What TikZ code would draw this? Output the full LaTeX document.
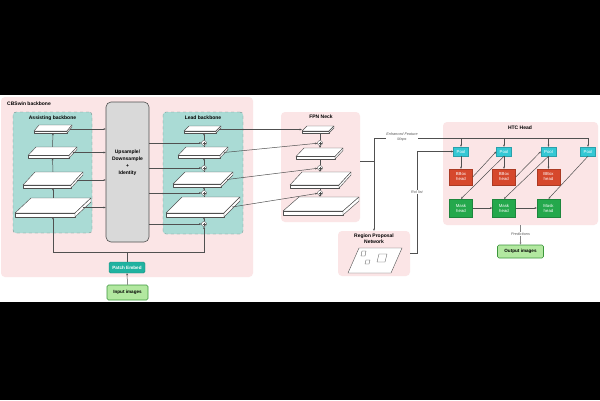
\documentclass[tikz,border=0pt]{standalone}
\usepackage{fontspec}
\setmainfont{Liberation Sans}
\usetikzlibrary{arrows.meta,calc,fit}
\definecolor{pinkbg}{RGB}{251,229,230}
\definecolor{tealbg}{RGB}{170,219,213}
\definecolor{tealbd}{RGB}{110,140,136}
\definecolor{graybox}{RGB}{217,217,217}
\definecolor{linec}{RGB}{80,80,80}
\definecolor{patchc}{RGB}{32,178,160}
\definecolor{inputg}{RGB}{178,232,160}
\definecolor{inputb}{RGB}{60,150,60}
\definecolor{poolc}{RGB}{52,200,212}
\definecolor{bboxc}{RGB}{214,72,44}
\definecolor{maskc}{RGB}{36,168,76}
\definecolor{labc}{RGB}{90,90,90}
\tikzset{
  arr/.style={draw=linec, line width=0.5pt, -{Stealth[length=2.2pt,width=1.9pt]}},
  ln/.style={draw=linec, line width=0.5pt},
  slabst/.style={draw=linec, fill=white, line width=0.45pt, line join=round},
  pinkbox/.style={fill=pinkbg, rounded corners=4pt},
  tealbox/.style={fill=tealbg, draw=tealbd, dashed, line width=0.35pt, rounded corners=3pt},
  ttl/.style={font=\fontsize{5}{6}\selectfont\bfseries, inner sep=0},
  sumc/.style={circle, draw=linec, fill=white, line width=0.4pt, minimum size=5pt, inner sep=0,
    path picture={\draw[line width=0.35pt,linec] ([xshift=-1.5pt]path picture bounding box.center) -- ([xshift=1.5pt]path picture bounding box.center) ([yshift=-1.5pt]path picture bounding box.center) -- ([yshift=1.5pt]path picture bounding box.center);}},
  colbox/.style={inner sep=0, align=center, text=white, font=\fontsize{4.3}{5}\selectfont, line width=0.4pt},
  pool/.style={colbox, fill=poolc, draw=poolc!80!black, minimum width=15pt, minimum height=9pt},
  bbox/.style={colbox, fill=bboxc, draw=bboxc!80!black, minimum width=23pt, minimum height=16pt},
  mask/.style={colbox, fill=maskc, draw=maskc!80!black, minimum width=23pt, minimum height=18pt},
  greenbtn/.style={fill=inputg, draw=inputb, line width=0.6pt, rounded corners=1.5pt, inner sep=0, font=\fontsize{4.6}{5}\selectfont\bfseries},
  itl/.style={font=\fontsize{3.8}{4.3}\selectfont\itshape, text=labc, inner sep=0.6pt, align=center}
}
\newcommand\slab[7]{%
  \node[inner sep=0, fit={(#2,#3)(#4,#5)}] (#1) {};
  \filldraw[slabst] (#2,{#5-#7}) -- ({#4-#6},{#5-#7}) -- (#4,#3) -- ({#2+#6},#3) -- cycle;
  \filldraw[slabst] (#2,{#5-#7}) -- ({#4-#6},{#5-#7}) -- ({#4-#6},#5) -- (#2,#5) -- cycle;
  \filldraw[slabst] ({#4-#6},{#5-#7}) -- (#4,#3) -- (#4,{#3+#7}) -- ({#4-#6},#5) -- cycle;
  \coordinate (#1-r) at ({#4-#6/2},{(#3+#5)/2});
}
\begin{document}
\begin{tikzpicture}[x=1pt,y=-1pt]
\useasboundingbox (0,0) rectangle (600,400);
\fill[black] (0,0) rectangle (600,95);
\fill[white] (0,95) rectangle (600,302);
\fill[black] (0,302) rectangle (600,400);

% background panels
\node[pinkbox, inner sep=0, fit={(1,97)(253,277)}] (cbs) {};
\node[ttl, anchor=west] (cbst) at (7,104) {CBSwin backbone};
\node[tealbox, inner sep=0, fit={(13,112)(92,233)}] (asb) {};
\node[ttl] (asbt) at (52.5,118) {Assisting backbone};
\node[tealbox, inner sep=0, fit={(163,112)(243,234)}] (lb) {};
\node[ttl] (lbt) at (203,118) {Lead backbone};
\node[fill=graybox, draw=linec, line width=0.6pt, rounded corners=5pt, inner sep=0, fit={(106,102)(149,242)}] (ud) {};
\node[ttl, align=center, font=\fontsize{5}{7}\selectfont\bfseries] (udt) at (127.5,163) {Upsample/\\Downsample\\+\\Identity};
\node[pinkbox, inner sep=0, fit={(281,112)(360,222)}] (fpn) {};
\node[ttl] (fpnt) at (321,117) {FPN Neck};
\node[pinkbox, inner sep=0, fit={(338,231)(410,276)}] (rpn) {};
\node[ttl, align=center] (rpnt) at (374,239) {Region Proposal\\Network};
\node[pinkbox, inner sep=0, fit={(443,122)(598,225)}] (htc) {};
\node[ttl] (htct) at (520,128) {HTC Head};

% slabs
\slab{as1}{34}{125}{72}{133}{5}{2}
\slab{as2}{28}{147}{77}{158}{8}{2.5}
\slab{as3}{23}{172}{83}{188}{12}{3}
\slab{as4}{15}{198}{91}{217}{16}{4}
\slab{ls1}{184}{126}{221}{133}{5}{2}
\slab{ls2}{178}{147}{228}{158}{8}{2.5}
\slab{ls3}{173}{172}{233}{187}{12}{3}
\slab{ls4}{166}{197}{240}{217}{16}{4}
\slab{f1}{302}{126}{334}{133}{5}{2}
\slab{f2}{296}{148}{343}{159}{8}{2.5}
\slab{f3}{290}{172}{351}{188}{12}{3}
\slab{f4}{283}{197}{359}{215}{16}{4}

% sum circles
\node[sumc] (c1) at (204,143) {};
\node[sumc] (c2) at (204,168) {};
\node[sumc] (c3) at (204,193) {};
\node[sumc] (c4) at (204,224) {};
\node[sumc] (g1) at (320,143) {};
\node[sumc] (g2) at (320,168) {};
\node[sumc] (g3) at (320,193) {};

% patch embed and input
\node[fill=patchc, draw=patchc!80!black, line width=0.4pt, rounded corners=1.5pt, text=white, inner sep=0, minimum width=36pt, minimum height=11pt, font=\fontsize{4.6}{5}\selectfont\bfseries] (pe) at (127,267.5) {Patch Embed};
\node[greenbtn, minimum width=41pt, minimum height=15pt] (ii) at (127.5,292.5) {Input images};
\draw[arr] (ii.north) -- (pe.south);
\draw[arr] (pe.north) -- ++(0,-10) -| (as4.south);
\draw[arr] (pe.north) ++(0,-10) -| (c4.south);

% assisting backbone arrows
\draw[arr] (as4.north) -- (as3.south);
\draw[arr] (as3.north) -- (as2.south);
\draw[arr] (as2.north) -- (as1.south);
\foreach \s in {as1,as2,as3,as4} {\draw[arr] (\s-r) -- (\s-r -| ud.west);}

% gray box to lead circles
\foreach \c in {c1,c2,c3,c4} {\draw[arr] (ud.east |- \c) -- (\c);}
% lead backbone vertical
\draw[ln] (c1 |- ls2.north) -- (c1); \draw[arr] (c1) -- (c1 |- ls1.south);
\draw[ln] (c2 |- ls3.north) -- (c2); \draw[arr] (c2) -- (c2 |- ls2.south);
\draw[ln] (c3 |- ls4.north) -- (c3); \draw[arr] (c3) -- (c3 |- ls3.south);
\draw[arr] (c4) -- (c4 |- ls4.south);

% lead to FPN
\draw[arr] (ls1-r) -- (f1.west);
\draw[arr] (ls2-r) -- (g1);
\draw[arr] (ls3-r) -- (g2);
\draw[arr] (ls4-r) -- (g3);
% FPN top-down
\draw[ln] (g1 |- f1.south) -- (g1); \draw[arr] (g1) -- (g1 |- f2.north);
\draw[ln] (g2 |- f2.south) -- (g2); \draw[arr] (g2) -- (g2 |- f3.north);
\draw[ln] (g3 |- f3.south) -- (g3); \draw[arr] (g3) -- (g3 |- f4.north);

% RPN drawing
\draw[linec, line width=0.4pt, fill=white] (359,248) -- (402,248) -- (391,273) -- (348,273) -- cycle;
\draw[linec, line width=0.35pt] (362,251) -- (366,251) -- (365,256) -- (361,256) -- cycle;
\draw[linec, line width=0.35pt] (366,260) -- (370,260) -- (369,264) -- (365,264) -- cycle;
\draw[linec, line width=0.35pt] (379,254) -- (387,254) -- (385,262) -- (377,262) -- cycle;

% FPN output / enhanced features
\coordinate (jt) at (374,138);
\coordinate (fo) at (374,161);
\draw[ln] (fpn.east |- fo) -- (fo);
\draw[arr] (jt) -- (rpn.north);
\draw[ln] (jt) -- (jt -| 588,0);

% HTC nodes
\node[pool] (p1) at (461,151.5) {Pool};
\node[pool] (p2) at (504,151.5) {Pool};
\node[pool] (p3) at (548.5,151.5) {Pool};
\node[pool] (p4) at (588,151.5) {Pool};
\node[bbox] (b1) at (461,177) {BBox\\head};
\node[bbox] (b2) at (504,177) {BBox\\head};
\node[bbox] (b3) at (548.5,177) {BBox\\head};
\node[mask] (m1) at (461,208) {Mask\\head};
\node[mask] (m2) at (504,208) {Mask\\head};
\node[mask] (m3) at (548.5,208) {Mask\\head};
\foreach \p in {p1,p2,p3,p4} {\draw[arr] (jt -| \p.north) -- (\p.north);}
\node[itl, fill=white] (eft) at (402,137) {Enhanced Feature\\Maps};
\draw[arr] (rpn.east) -- ++(7,0) |- (p1.west);
\node[itl, fill=white] (roil) at (417,192) {RoI list};
\draw[arr] (p1) -- (b1);
\draw[arr] (p2) -- (b2);
\draw[arr] (p3) -- (b3);
\draw[arr] (b1.east) -- (p2.west);
\draw[arr] (b2.east) -- (p3.west);
\draw[arr] (p2.south) -- (m1.north);
\draw[arr] (p3.south) -- (m2.north);
\draw[arr] (p4.south) -- (m3.north);
\draw[arr] (m1) -- (m2);
\draw[arr] (m2) -- (m3);

% output
\node[greenbtn, minimum width=46pt, minimum height=13pt] (oi) at (520.5,251.5) {Output images};
\draw[arr, draw=linec!70] (htc.south -| oi.north) -- (oi.north);
\node[itl, fill=white] (pred) at (520.5,234) {Predictions};
\end{tikzpicture}
\end{document}
